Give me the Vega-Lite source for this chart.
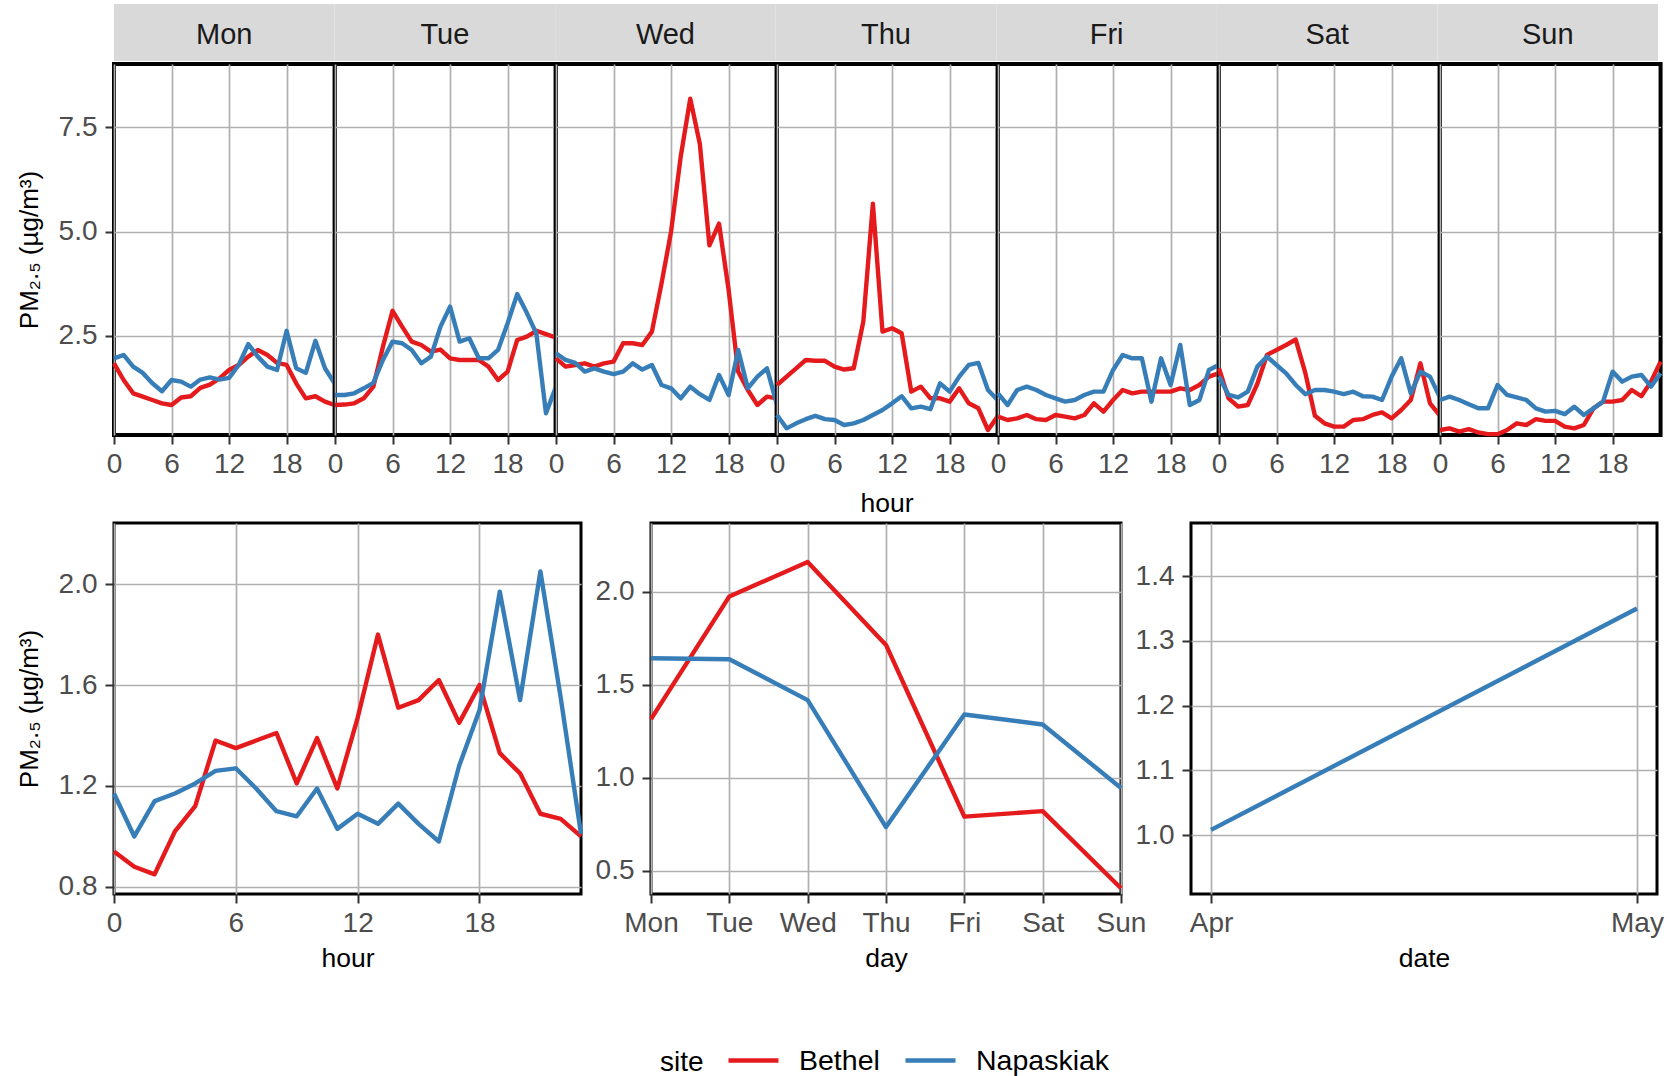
{
  "$schema": "https://vega.github.io/schema/vega-lite/v6.json",
  "padding": {"left": 14, "top": 4, "right": 5, "bottom": 0},
  "background": "white",
  "config": {
    "font": "Liberation Sans",
    "view": {"stroke": "black", "strokeWidth": 3},
    "axis": {"grid": true, "gridColor": "#B0B0B0", "gridWidth": 1.7, "domain": false, "ticks": true, "tickColor": "#333333", "tickWidth": 2, "tickSize": 9, "labelFontSize": 28, "labelColor": "#4D4D4D", "labelPadding": 6, "titleFontSize": 26.5, "titleFontWeight": "normal", "titleColor": "#000000", "labelFlush": false, "labelOverlap": false, "titlePadding": 8},
    "axisY": {"titlePadding": 16, "labelPadding": 8, "titleFontSize": 26},
    "legend": {"direction": "horizontal", "titleOrient": "left", "titleFontSize": 28, "titleFontWeight": "normal", "titleColor": "#000000", "titleAnchor": "middle", "titleBaseline": "line-top", "titleLineHeight": 17, "labelFontSize": 28.5, "labelColor": "#000000", "symbolType": "stroke", "symbolSize": 2500, "symbolStrokeWidth": 4.5, "labelOffset": 18, "columnPadding": 16, "titlePadding": 22}
  },
  "datasets": {
    "days": [{"day":"Mon"},{"day":"Tue"},{"day":"Wed"},{"day":"Thu"},{"day":"Fri"},{"day":"Sat"},{"day":"Sun"}],
    "dayhour": [
      {"day":"Mon","hour":0,"site":"Bethel","pm":1.84},{"day":"Mon","hour":1,"site":"Bethel","pm":1.44},{"day":"Mon","hour":2,"site":"Bethel","pm":1.12},{"day":"Mon","hour":3,"site":"Bethel","pm":1.04},{"day":"Mon","hour":4,"site":"Bethel","pm":0.96},{"day":"Mon","hour":5,"site":"Bethel","pm":0.88},{"day":"Mon","hour":6,"site":"Bethel","pm":0.84},{"day":"Mon","hour":7,"site":"Bethel","pm":1.02},{"day":"Mon","hour":8,"site":"Bethel","pm":1.05},{"day":"Mon","hour":9,"site":"Bethel","pm":1.25},{"day":"Mon","hour":10,"site":"Bethel","pm":1.33},{"day":"Mon","hour":11,"site":"Bethel","pm":1.48},{"day":"Mon","hour":12,"site":"Bethel","pm":1.68},{"day":"Mon","hour":13,"site":"Bethel","pm":1.80},{"day":"Mon","hour":14,"site":"Bethel","pm":2.00},{"day":"Mon","hour":15,"site":"Bethel","pm":2.16},{"day":"Mon","hour":16,"site":"Bethel","pm":2.04},{"day":"Mon","hour":17,"site":"Bethel","pm":1.85},{"day":"Mon","hour":18,"site":"Bethel","pm":1.80},{"day":"Mon","hour":19,"site":"Bethel","pm":1.36},{"day":"Mon","hour":20,"site":"Bethel","pm":1.00},{"day":"Mon","hour":21,"site":"Bethel","pm":1.05},{"day":"Mon","hour":22,"site":"Bethel","pm":0.92},{"day":"Mon","hour":23,"site":"Bethel","pm":0.84},
      {"day":"Mon","hour":0,"site":"Napaskiak","pm":1.96},{"day":"Mon","hour":1,"site":"Napaskiak","pm":2.04},{"day":"Mon","hour":2,"site":"Napaskiak","pm":1.76},{"day":"Mon","hour":3,"site":"Napaskiak","pm":1.61},{"day":"Mon","hour":4,"site":"Napaskiak","pm":1.36},{"day":"Mon","hour":5,"site":"Napaskiak","pm":1.17},{"day":"Mon","hour":6,"site":"Napaskiak","pm":1.44},{"day":"Mon","hour":7,"site":"Napaskiak","pm":1.40},{"day":"Mon","hour":8,"site":"Napaskiak","pm":1.28},{"day":"Mon","hour":9,"site":"Napaskiak","pm":1.45},{"day":"Mon","hour":10,"site":"Napaskiak","pm":1.50},{"day":"Mon","hour":11,"site":"Napaskiak","pm":1.45},{"day":"Mon","hour":12,"site":"Napaskiak","pm":1.49},{"day":"Mon","hour":13,"site":"Napaskiak","pm":1.80},{"day":"Mon","hour":14,"site":"Napaskiak","pm":2.30},{"day":"Mon","hour":15,"site":"Napaskiak","pm":2.00},{"day":"Mon","hour":16,"site":"Napaskiak","pm":1.76},{"day":"Mon","hour":17,"site":"Napaskiak","pm":1.68},{"day":"Mon","hour":18,"site":"Napaskiak","pm":2.62},{"day":"Mon","hour":19,"site":"Napaskiak","pm":1.72},{"day":"Mon","hour":20,"site":"Napaskiak","pm":1.61},{"day":"Mon","hour":21,"site":"Napaskiak","pm":2.38},{"day":"Mon","hour":22,"site":"Napaskiak","pm":1.72},{"day":"Mon","hour":23,"site":"Napaskiak","pm":1.36},
      {"day":"Tue","hour":0,"site":"Bethel","pm":0.84},{"day":"Tue","hour":1,"site":"Bethel","pm":0.85},{"day":"Tue","hour":2,"site":"Bethel","pm":0.88},{"day":"Tue","hour":3,"site":"Bethel","pm":1.00},{"day":"Tue","hour":4,"site":"Bethel","pm":1.28},{"day":"Tue","hour":5,"site":"Bethel","pm":2.24},{"day":"Tue","hour":6,"site":"Bethel","pm":3.10},{"day":"Tue","hour":7,"site":"Bethel","pm":2.72},{"day":"Tue","hour":8,"site":"Bethel","pm":2.36},{"day":"Tue","hour":9,"site":"Bethel","pm":2.28},{"day":"Tue","hour":10,"site":"Bethel","pm":2.12},{"day":"Tue","hour":11,"site":"Bethel","pm":2.17},{"day":"Tue","hour":12,"site":"Bethel","pm":1.96},{"day":"Tue","hour":13,"site":"Bethel","pm":1.92},{"day":"Tue","hour":14,"site":"Bethel","pm":1.92},{"day":"Tue","hour":15,"site":"Bethel","pm":1.92},{"day":"Tue","hour":16,"site":"Bethel","pm":1.76},{"day":"Tue","hour":17,"site":"Bethel","pm":1.44},{"day":"Tue","hour":18,"site":"Bethel","pm":1.64},{"day":"Tue","hour":19,"site":"Bethel","pm":2.40},{"day":"Tue","hour":20,"site":"Bethel","pm":2.48},{"day":"Tue","hour":21,"site":"Bethel","pm":2.62},{"day":"Tue","hour":22,"site":"Bethel","pm":2.54},{"day":"Tue","hour":23,"site":"Bethel","pm":2.46},
      {"day":"Tue","hour":0,"site":"Napaskiak","pm":1.08},{"day":"Tue","hour":1,"site":"Napaskiak","pm":1.08},{"day":"Tue","hour":2,"site":"Napaskiak","pm":1.12},{"day":"Tue","hour":3,"site":"Napaskiak","pm":1.24},{"day":"Tue","hour":4,"site":"Napaskiak","pm":1.37},{"day":"Tue","hour":5,"site":"Napaskiak","pm":1.92},{"day":"Tue","hour":6,"site":"Napaskiak","pm":2.36},{"day":"Tue","hour":7,"site":"Napaskiak","pm":2.32},{"day":"Tue","hour":8,"site":"Napaskiak","pm":2.16},{"day":"Tue","hour":9,"site":"Napaskiak","pm":1.84},{"day":"Tue","hour":10,"site":"Napaskiak","pm":2.00},{"day":"Tue","hour":11,"site":"Napaskiak","pm":2.72},{"day":"Tue","hour":12,"site":"Napaskiak","pm":3.20},{"day":"Tue","hour":13,"site":"Napaskiak","pm":2.36},{"day":"Tue","hour":14,"site":"Napaskiak","pm":2.44},{"day":"Tue","hour":15,"site":"Napaskiak","pm":1.96},{"day":"Tue","hour":16,"site":"Napaskiak","pm":1.96},{"day":"Tue","hour":17,"site":"Napaskiak","pm":2.16},{"day":"Tue","hour":18,"site":"Napaskiak","pm":2.80},{"day":"Tue","hour":19,"site":"Napaskiak","pm":3.50},{"day":"Tue","hour":20,"site":"Napaskiak","pm":3.05},{"day":"Tue","hour":21,"site":"Napaskiak","pm":2.55},{"day":"Tue","hour":22,"site":"Napaskiak","pm":0.64},{"day":"Tue","hour":23,"site":"Napaskiak","pm":1.25},
      {"day":"Wed","hour":0,"site":"Bethel","pm":1.96},{"day":"Wed","hour":1,"site":"Bethel","pm":1.76},{"day":"Wed","hour":2,"site":"Bethel","pm":1.80},{"day":"Wed","hour":3,"site":"Bethel","pm":1.84},{"day":"Wed","hour":4,"site":"Bethel","pm":1.76},{"day":"Wed","hour":5,"site":"Bethel","pm":1.84},{"day":"Wed","hour":6,"site":"Bethel","pm":1.88},{"day":"Wed","hour":7,"site":"Bethel","pm":2.32},{"day":"Wed","hour":8,"site":"Bethel","pm":2.32},{"day":"Wed","hour":9,"site":"Bethel","pm":2.28},{"day":"Wed","hour":10,"site":"Bethel","pm":2.60},{"day":"Wed","hour":11,"site":"Bethel","pm":3.75},{"day":"Wed","hour":12,"site":"Bethel","pm":5.00},{"day":"Wed","hour":13,"site":"Bethel","pm":6.79},{"day":"Wed","hour":14,"site":"Bethel","pm":8.19},{"day":"Wed","hour":15,"site":"Bethel","pm":7.10},{"day":"Wed","hour":16,"site":"Bethel","pm":4.67},{"day":"Wed","hour":17,"site":"Bethel","pm":5.19},{"day":"Wed","hour":18,"site":"Bethel","pm":3.60},{"day":"Wed","hour":19,"site":"Bethel","pm":1.64},{"day":"Wed","hour":20,"site":"Bethel","pm":1.20},{"day":"Wed","hour":21,"site":"Bethel","pm":0.84},{"day":"Wed","hour":22,"site":"Bethel","pm":1.04},{"day":"Wed","hour":23,"site":"Bethel","pm":1.00},
      {"day":"Wed","hour":0,"site":"Napaskiak","pm":2.08},{"day":"Wed","hour":1,"site":"Napaskiak","pm":1.92},{"day":"Wed","hour":2,"site":"Napaskiak","pm":1.85},{"day":"Wed","hour":3,"site":"Napaskiak","pm":1.64},{"day":"Wed","hour":4,"site":"Napaskiak","pm":1.72},{"day":"Wed","hour":5,"site":"Napaskiak","pm":1.64},{"day":"Wed","hour":6,"site":"Napaskiak","pm":1.58},{"day":"Wed","hour":7,"site":"Napaskiak","pm":1.64},{"day":"Wed","hour":8,"site":"Napaskiak","pm":1.84},{"day":"Wed","hour":9,"site":"Napaskiak","pm":1.69},{"day":"Wed","hour":10,"site":"Napaskiak","pm":1.80},{"day":"Wed","hour":11,"site":"Napaskiak","pm":1.32},{"day":"Wed","hour":12,"site":"Napaskiak","pm":1.24},{"day":"Wed","hour":13,"site":"Napaskiak","pm":1.00},{"day":"Wed","hour":14,"site":"Napaskiak","pm":1.28},{"day":"Wed","hour":15,"site":"Napaskiak","pm":1.10},{"day":"Wed","hour":16,"site":"Napaskiak","pm":0.96},{"day":"Wed","hour":17,"site":"Napaskiak","pm":1.56},{"day":"Wed","hour":18,"site":"Napaskiak","pm":1.08},{"day":"Wed","hour":19,"site":"Napaskiak","pm":2.16},{"day":"Wed","hour":20,"site":"Napaskiak","pm":1.24},{"day":"Wed","hour":21,"site":"Napaskiak","pm":1.52},{"day":"Wed","hour":22,"site":"Napaskiak","pm":1.72},{"day":"Wed","hour":23,"site":"Napaskiak","pm":0.88},
      {"day":"Thu","hour":0,"site":"Bethel","pm":1.32},{"day":"Thu","hour":1,"site":"Bethel","pm":1.52},{"day":"Thu","hour":2,"site":"Bethel","pm":1.72},{"day":"Thu","hour":3,"site":"Bethel","pm":1.92},{"day":"Thu","hour":4,"site":"Bethel","pm":1.90},{"day":"Thu","hour":5,"site":"Bethel","pm":1.90},{"day":"Thu","hour":6,"site":"Bethel","pm":1.76},{"day":"Thu","hour":7,"site":"Bethel","pm":1.69},{"day":"Thu","hour":8,"site":"Bethel","pm":1.72},{"day":"Thu","hour":9,"site":"Bethel","pm":2.84},{"day":"Thu","hour":10,"site":"Bethel","pm":5.67},{"day":"Thu","hour":11,"site":"Bethel","pm":2.60},{"day":"Thu","hour":12,"site":"Bethel","pm":2.68},{"day":"Thu","hour":13,"site":"Bethel","pm":2.56},{"day":"Thu","hour":14,"site":"Bethel","pm":1.16},{"day":"Thu","hour":15,"site":"Bethel","pm":1.28},{"day":"Thu","hour":16,"site":"Bethel","pm":1.00},{"day":"Thu","hour":17,"site":"Bethel","pm":1.00},{"day":"Thu","hour":18,"site":"Bethel","pm":0.92},{"day":"Thu","hour":19,"site":"Bethel","pm":1.24},{"day":"Thu","hour":20,"site":"Bethel","pm":0.88},{"day":"Thu","hour":21,"site":"Bethel","pm":0.76},{"day":"Thu","hour":22,"site":"Bethel","pm":0.24},{"day":"Thu","hour":23,"site":"Bethel","pm":0.56},
      {"day":"Thu","hour":0,"site":"Napaskiak","pm":0.60},{"day":"Thu","hour":1,"site":"Napaskiak","pm":0.28},{"day":"Thu","hour":2,"site":"Napaskiak","pm":0.40},{"day":"Thu","hour":3,"site":"Napaskiak","pm":0.50},{"day":"Thu","hour":4,"site":"Napaskiak","pm":0.58},{"day":"Thu","hour":5,"site":"Napaskiak","pm":0.50},{"day":"Thu","hour":6,"site":"Napaskiak","pm":0.48},{"day":"Thu","hour":7,"site":"Napaskiak","pm":0.36},{"day":"Thu","hour":8,"site":"Napaskiak","pm":0.40},{"day":"Thu","hour":9,"site":"Napaskiak","pm":0.48},{"day":"Thu","hour":10,"site":"Napaskiak","pm":0.60},{"day":"Thu","hour":11,"site":"Napaskiak","pm":0.72},{"day":"Thu","hour":12,"site":"Napaskiak","pm":0.88},{"day":"Thu","hour":13,"site":"Napaskiak","pm":1.05},{"day":"Thu","hour":14,"site":"Napaskiak","pm":0.76},{"day":"Thu","hour":15,"site":"Napaskiak","pm":0.80},{"day":"Thu","hour":16,"site":"Napaskiak","pm":0.74},{"day":"Thu","hour":17,"site":"Napaskiak","pm":1.36},{"day":"Thu","hour":18,"site":"Napaskiak","pm":1.16},{"day":"Thu","hour":19,"site":"Napaskiak","pm":1.52},{"day":"Thu","hour":20,"site":"Napaskiak","pm":1.80},{"day":"Thu","hour":21,"site":"Napaskiak","pm":1.85},{"day":"Thu","hour":22,"site":"Napaskiak","pm":1.20},{"day":"Thu","hour":23,"site":"Napaskiak","pm":0.96},
      {"day":"Fri","hour":0,"site":"Bethel","pm":0.56},{"day":"Fri","hour":1,"site":"Bethel","pm":0.48},{"day":"Fri","hour":2,"site":"Bethel","pm":0.52},{"day":"Fri","hour":3,"site":"Bethel","pm":0.60},{"day":"Fri","hour":4,"site":"Bethel","pm":0.50},{"day":"Fri","hour":5,"site":"Bethel","pm":0.48},{"day":"Fri","hour":6,"site":"Bethel","pm":0.60},{"day":"Fri","hour":7,"site":"Bethel","pm":0.56},{"day":"Fri","hour":8,"site":"Bethel","pm":0.52},{"day":"Fri","hour":9,"site":"Bethel","pm":0.60},{"day":"Fri","hour":10,"site":"Bethel","pm":0.88},{"day":"Fri","hour":11,"site":"Bethel","pm":0.68},{"day":"Fri","hour":12,"site":"Bethel","pm":0.96},{"day":"Fri","hour":13,"site":"Bethel","pm":1.20},{"day":"Fri","hour":14,"site":"Bethel","pm":1.12},{"day":"Fri","hour":15,"site":"Bethel","pm":1.16},{"day":"Fri","hour":16,"site":"Bethel","pm":1.16},{"day":"Fri","hour":17,"site":"Bethel","pm":1.16},{"day":"Fri","hour":18,"site":"Bethel","pm":1.16},{"day":"Fri","hour":19,"site":"Bethel","pm":1.24},{"day":"Fri","hour":20,"site":"Bethel","pm":1.20},{"day":"Fri","hour":21,"site":"Bethel","pm":1.32},{"day":"Fri","hour":22,"site":"Bethel","pm":1.52},{"day":"Fri","hour":23,"site":"Bethel","pm":1.60},
      {"day":"Fri","hour":0,"site":"Napaskiak","pm":1.12},{"day":"Fri","hour":1,"site":"Napaskiak","pm":0.84},{"day":"Fri","hour":2,"site":"Napaskiak","pm":1.20},{"day":"Fri","hour":3,"site":"Napaskiak","pm":1.28},{"day":"Fri","hour":4,"site":"Napaskiak","pm":1.20},{"day":"Fri","hour":5,"site":"Napaskiak","pm":1.08},{"day":"Fri","hour":6,"site":"Napaskiak","pm":1.00},{"day":"Fri","hour":7,"site":"Napaskiak","pm":0.92},{"day":"Fri","hour":8,"site":"Napaskiak","pm":0.96},{"day":"Fri","hour":9,"site":"Napaskiak","pm":1.08},{"day":"Fri","hour":10,"site":"Napaskiak","pm":1.16},{"day":"Fri","hour":11,"site":"Napaskiak","pm":1.16},{"day":"Fri","hour":12,"site":"Napaskiak","pm":1.68},{"day":"Fri","hour":13,"site":"Napaskiak","pm":2.04},{"day":"Fri","hour":14,"site":"Napaskiak","pm":1.96},{"day":"Fri","hour":15,"site":"Napaskiak","pm":1.96},{"day":"Fri","hour":16,"site":"Napaskiak","pm":0.92},{"day":"Fri","hour":17,"site":"Napaskiak","pm":1.96},{"day":"Fri","hour":18,"site":"Napaskiak","pm":1.32},{"day":"Fri","hour":19,"site":"Napaskiak","pm":2.28},{"day":"Fri","hour":20,"site":"Napaskiak","pm":0.84},{"day":"Fri","hour":21,"site":"Napaskiak","pm":0.96},{"day":"Fri","hour":22,"site":"Napaskiak","pm":1.68},{"day":"Fri","hour":23,"site":"Napaskiak","pm":1.80},
      {"day":"Sat","hour":0,"site":"Bethel","pm":1.72},{"day":"Sat","hour":1,"site":"Bethel","pm":1.00},{"day":"Sat","hour":2,"site":"Bethel","pm":0.80},{"day":"Sat","hour":3,"site":"Bethel","pm":0.84},{"day":"Sat","hour":4,"site":"Bethel","pm":1.35},{"day":"Sat","hour":5,"site":"Bethel","pm":2.04},{"day":"Sat","hour":6,"site":"Bethel","pm":2.16},{"day":"Sat","hour":7,"site":"Bethel","pm":2.28},{"day":"Sat","hour":8,"site":"Bethel","pm":2.41},{"day":"Sat","hour":9,"site":"Bethel","pm":1.61},{"day":"Sat","hour":10,"site":"Bethel","pm":0.58},{"day":"Sat","hour":11,"site":"Bethel","pm":0.40},{"day":"Sat","hour":12,"site":"Bethel","pm":0.32},{"day":"Sat","hour":13,"site":"Bethel","pm":0.32},{"day":"Sat","hour":14,"site":"Bethel","pm":0.48},{"day":"Sat","hour":15,"site":"Bethel","pm":0.50},{"day":"Sat","hour":16,"site":"Bethel","pm":0.60},{"day":"Sat","hour":17,"site":"Bethel","pm":0.66},{"day":"Sat","hour":18,"site":"Bethel","pm":0.52},{"day":"Sat","hour":19,"site":"Bethel","pm":0.72},{"day":"Sat","hour":20,"site":"Bethel","pm":0.96},{"day":"Sat","hour":21,"site":"Bethel","pm":1.84},{"day":"Sat","hour":22,"site":"Bethel","pm":0.88},{"day":"Sat","hour":23,"site":"Bethel","pm":0.60},
      {"day":"Sat","hour":0,"site":"Napaskiak","pm":1.52},{"day":"Sat","hour":1,"site":"Napaskiak","pm":1.08},{"day":"Sat","hour":2,"site":"Napaskiak","pm":1.02},{"day":"Sat","hour":3,"site":"Napaskiak","pm":1.16},{"day":"Sat","hour":4,"site":"Napaskiak","pm":1.76},{"day":"Sat","hour":5,"site":"Napaskiak","pm":2.00},{"day":"Sat","hour":6,"site":"Napaskiak","pm":1.80},{"day":"Sat","hour":7,"site":"Napaskiak","pm":1.60},{"day":"Sat","hour":8,"site":"Napaskiak","pm":1.32},{"day":"Sat","hour":9,"site":"Napaskiak","pm":1.10},{"day":"Sat","hour":10,"site":"Napaskiak","pm":1.20},{"day":"Sat","hour":11,"site":"Napaskiak","pm":1.20},{"day":"Sat","hour":12,"site":"Napaskiak","pm":1.16},{"day":"Sat","hour":13,"site":"Napaskiak","pm":1.10},{"day":"Sat","hour":14,"site":"Napaskiak","pm":1.16},{"day":"Sat","hour":15,"site":"Napaskiak","pm":1.05},{"day":"Sat","hour":16,"site":"Napaskiak","pm":1.04},{"day":"Sat","hour":17,"site":"Napaskiak","pm":0.96},{"day":"Sat","hour":18,"site":"Napaskiak","pm":1.52},{"day":"Sat","hour":19,"site":"Napaskiak","pm":1.96},{"day":"Sat","hour":20,"site":"Napaskiak","pm":1.12},{"day":"Sat","hour":21,"site":"Napaskiak","pm":1.64},{"day":"Sat","hour":22,"site":"Napaskiak","pm":1.52},{"day":"Sat","hour":23,"site":"Napaskiak","pm":1.04},
      {"day":"Sun","hour":0,"site":"Bethel","pm":0.24},{"day":"Sun","hour":1,"site":"Bethel","pm":0.28},{"day":"Sun","hour":2,"site":"Bethel","pm":0.20},{"day":"Sun","hour":3,"site":"Bethel","pm":0.26},{"day":"Sun","hour":4,"site":"Bethel","pm":0.18},{"day":"Sun","hour":5,"site":"Bethel","pm":0.14},{"day":"Sun","hour":6,"site":"Bethel","pm":0.14},{"day":"Sun","hour":7,"site":"Bethel","pm":0.24},{"day":"Sun","hour":8,"site":"Bethel","pm":0.40},{"day":"Sun","hour":9,"site":"Bethel","pm":0.36},{"day":"Sun","hour":10,"site":"Bethel","pm":0.50},{"day":"Sun","hour":11,"site":"Bethel","pm":0.46},{"day":"Sun","hour":12,"site":"Bethel","pm":0.46},{"day":"Sun","hour":13,"site":"Bethel","pm":0.32},{"day":"Sun","hour":14,"site":"Bethel","pm":0.28},{"day":"Sun","hour":15,"site":"Bethel","pm":0.36},{"day":"Sun","hour":16,"site":"Bethel","pm":0.76},{"day":"Sun","hour":17,"site":"Bethel","pm":0.92},{"day":"Sun","hour":18,"site":"Bethel","pm":0.92},{"day":"Sun","hour":19,"site":"Bethel","pm":0.96},{"day":"Sun","hour":20,"site":"Bethel","pm":1.20},{"day":"Sun","hour":21,"site":"Bethel","pm":1.05},{"day":"Sun","hour":22,"site":"Bethel","pm":1.40},{"day":"Sun","hour":23,"site":"Bethel","pm":1.88},
      {"day":"Sun","hour":0,"site":"Napaskiak","pm":0.96},{"day":"Sun","hour":1,"site":"Napaskiak","pm":1.04},{"day":"Sun","hour":2,"site":"Napaskiak","pm":0.96},{"day":"Sun","hour":3,"site":"Napaskiak","pm":0.86},{"day":"Sun","hour":4,"site":"Napaskiak","pm":0.76},{"day":"Sun","hour":5,"site":"Napaskiak","pm":0.76},{"day":"Sun","hour":6,"site":"Napaskiak","pm":1.32},{"day":"Sun","hour":7,"site":"Napaskiak","pm":1.08},{"day":"Sun","hour":8,"site":"Napaskiak","pm":1.02},{"day":"Sun","hour":9,"site":"Napaskiak","pm":0.96},{"day":"Sun","hour":10,"site":"Napaskiak","pm":0.76},{"day":"Sun","hour":11,"site":"Napaskiak","pm":0.68},{"day":"Sun","hour":12,"site":"Napaskiak","pm":0.70},{"day":"Sun","hour":13,"site":"Napaskiak","pm":0.62},{"day":"Sun","hour":14,"site":"Napaskiak","pm":0.80},{"day":"Sun","hour":15,"site":"Napaskiak","pm":0.60},{"day":"Sun","hour":16,"site":"Napaskiak","pm":0.76},{"day":"Sun","hour":17,"site":"Napaskiak","pm":0.92},{"day":"Sun","hour":18,"site":"Napaskiak","pm":1.64},{"day":"Sun","hour":19,"site":"Napaskiak","pm":1.40},{"day":"Sun","hour":20,"site":"Napaskiak","pm":1.52},{"day":"Sun","hour":21,"site":"Napaskiak","pm":1.56},{"day":"Sun","hour":22,"site":"Napaskiak","pm":1.28},{"day":"Sun","hour":23,"site":"Napaskiak","pm":1.60}
    ],
    "hourly": [
      {"hour":0,"site":"Bethel","pm":0.94},{"hour":1,"site":"Bethel","pm":0.88},{"hour":2,"site":"Bethel","pm":0.85},{"hour":3,"site":"Bethel","pm":1.02},{"hour":4,"site":"Bethel","pm":1.12},{"hour":5,"site":"Bethel","pm":1.38},{"hour":6,"site":"Bethel","pm":1.35},{"hour":7,"site":"Bethel","pm":1.38},{"hour":8,"site":"Bethel","pm":1.41},{"hour":9,"site":"Bethel","pm":1.21},{"hour":10,"site":"Bethel","pm":1.39},{"hour":11,"site":"Bethel","pm":1.19},{"hour":12,"site":"Bethel","pm":1.47},{"hour":13,"site":"Bethel","pm":1.80},{"hour":14,"site":"Bethel","pm":1.51},{"hour":15,"site":"Bethel","pm":1.54},{"hour":16,"site":"Bethel","pm":1.62},{"hour":17,"site":"Bethel","pm":1.45},{"hour":18,"site":"Bethel","pm":1.60},{"hour":19,"site":"Bethel","pm":1.33},{"hour":20,"site":"Bethel","pm":1.25},{"hour":21,"site":"Bethel","pm":1.09},{"hour":22,"site":"Bethel","pm":1.07},{"hour":23,"site":"Bethel","pm":1.00},
      {"hour":0,"site":"Napaskiak","pm":1.17},{"hour":1,"site":"Napaskiak","pm":1.00},{"hour":2,"site":"Napaskiak","pm":1.14},{"hour":3,"site":"Napaskiak","pm":1.17},{"hour":4,"site":"Napaskiak","pm":1.21},{"hour":5,"site":"Napaskiak","pm":1.26},{"hour":6,"site":"Napaskiak","pm":1.27},{"hour":7,"site":"Napaskiak","pm":1.19},{"hour":8,"site":"Napaskiak","pm":1.10},{"hour":9,"site":"Napaskiak","pm":1.08},{"hour":10,"site":"Napaskiak","pm":1.19},{"hour":11,"site":"Napaskiak","pm":1.03},{"hour":12,"site":"Napaskiak","pm":1.09},{"hour":13,"site":"Napaskiak","pm":1.05},{"hour":14,"site":"Napaskiak","pm":1.13},{"hour":15,"site":"Napaskiak","pm":1.05},{"hour":16,"site":"Napaskiak","pm":0.98},{"hour":17,"site":"Napaskiak","pm":1.28},{"hour":18,"site":"Napaskiak","pm":1.50},{"hour":19,"site":"Napaskiak","pm":1.97},{"hour":20,"site":"Napaskiak","pm":1.54},{"hour":21,"site":"Napaskiak","pm":2.05},{"hour":22,"site":"Napaskiak","pm":1.55},{"hour":23,"site":"Napaskiak","pm":1.01}
    ],
    "weekday": [
      {"day":"Mon","site":"Bethel","pm":1.315},{"day":"Tue","site":"Bethel","pm":1.975},{"day":"Wed","site":"Bethel","pm":2.16},{"day":"Thu","site":"Bethel","pm":1.714},{"day":"Fri","site":"Bethel","pm":0.79},{"day":"Sat","site":"Bethel","pm":0.82},{"day":"Sun","site":"Bethel","pm":0.405},
      {"day":"Mon","site":"Napaskiak","pm":1.642},{"day":"Tue","site":"Napaskiak","pm":1.637},{"day":"Wed","site":"Napaskiak","pm":1.417},{"day":"Thu","site":"Napaskiak","pm":0.734},{"day":"Fri","site":"Napaskiak","pm":1.34},{"day":"Sat","site":"Napaskiak","pm":1.286},{"day":"Sun","site":"Napaskiak","pm":0.944}
    ],
    "monthly": [
      {"month":"Apr","site":"Napaskiak","pm":1.008},{"month":"May","site":"Napaskiak","pm":1.35}
    ]
  },
  "resolve": {"scale": {"color": "shared"}, "legend": {"color": "shared"}},
  "spacing": 3,
  "vconcat": [
    {
      "spacing": 1,
      "resolve": {"scale": {"color": "shared"}, "legend": {"color": "shared"}},
      "vconcat": [
        {
          "data": {"name": "days"},
          "width": 1544,
          "height": 57,
          "view": {"stroke": null},
          "layer": [
            {"mark": {"type": "rect", "color": "#D9D9D9"},
             "encoding": {"x": {"field": "day", "type": "nominal", "sort": ["Mon","Tue","Wed","Thu","Fri","Sat","Sun"], "scale": {"paddingInner": 0, "paddingOuter": 0}, "axis": null}}},
            {"mark": {"type": "text", "fontSize": 29, "color": "#1A1A1A", "baseline": "middle", "dy": 2},
             "encoding": {"x": {"field": "day", "type": "nominal", "sort": ["Mon","Tue","Wed","Thu","Fri","Sat","Sun"], "scale": {"paddingInner": 0, "paddingOuter": 0}, "axis": null}, "text": {"field": "day"}}}
          ]
        },
        {
          "data": {"name": "dayhour"},
          "facet": {"column": {"field": "day", "type": "nominal", "sort": ["Mon","Tue","Wed","Thu","Fri","Sat","Sun"], "title": "hour", "header": {"labels": false, "labelPadding": 0, "titleOrient": "bottom", "titleFontSize": 26.5, "titleFontWeight": "normal", "titleColor": "#000000", "titlePadding": 3}}},
          "spacing": 0,
          "bounds": "flush",
          "spec": {
            "width": 220.57,
            "height": 371,
            "view": {"stroke": "black", "strokeWidth": 4},
            "mark": {"type": "line", "strokeWidth": 4.4, "strokeJoin": "round"},
            "encoding": {
              "x": {"field": "hour", "type": "quantitative", "scale": {"domain": [0, 23], "nice": false, "zero": false}, "axis": {"values": [0, 6, 12, 18], "title": null}},
              "y": {"field": "pm", "type": "quantitative", "scale": {"domain": [0.12, 9.02], "nice": false, "zero": false}, "axis": {"values": [2.5, 5, 7.5], "format": ".1f", "title": "PM₂.₅ (µg/m³)"}},
              "color": {"field": "site", "type": "nominal", "title": "site", "scale": {"domain": ["Bethel", "Napaskiak"], "range": ["#E41A1C", "#377EB8"]}, "legend": {"orient": "none", "legendX": 546, "legendY": 1029}}
            }
          }
        }
      ]
    },
    {
      "spacing": 70,
      "bounds": "flush",
      "resolve": {"scale": {"color": "shared"}, "legend": {"color": "shared"}},
      "hconcat": [
        {
          "data": {"name": "hourly"},
          "width": 467,
          "height": 371,
          "mark": {"type": "line", "strokeWidth": 4.4, "strokeJoin": "round"},
          "encoding": {
            "x": {"field": "hour", "type": "quantitative", "scale": {"domain": [0, 23], "nice": false, "zero": false}, "axis": {"values": [0, 6, 12, 18], "title": "hour"}},
            "y": {"field": "pm", "type": "quantitative", "scale": {"domain": [0.772, 2.242], "nice": false, "zero": false}, "axis": {"values": [0.8, 1.2, 1.6, 2.0], "format": ".1f", "title": "PM₂.₅ (µg/m³)"}},
            "color": {"field": "site", "type": "nominal", "title": "site", "scale": {"domain": ["Bethel", "Napaskiak"], "range": ["#E41A1C", "#377EB8"]}, "legend": {"orient": "none", "legendX": 546, "legendY": 1029}}
          }
        },
        {
          "data": {"name": "weekday"},
          "width": 470,
          "height": 371,
          "mark": {"type": "line", "strokeWidth": 4.4, "strokeJoin": "round"},
          "encoding": {
            "x": {"field": "day", "type": "ordinal", "scale": {"type": "point", "padding": 0, "domain": ["Mon","Tue","Wed","Thu","Fri","Sat","Sun"]}, "axis": {"title": "day", "labelAngle": 0}},
            "y": {"field": "pm", "type": "quantitative", "scale": {"domain": [0.374, 2.37], "nice": false, "zero": false}, "axis": {"values": [0.5, 1.0, 1.5, 2.0], "format": ".1f", "title": null}},
            "color": {"field": "site", "type": "nominal", "title": "site", "scale": {"domain": ["Bethel", "Napaskiak"], "range": ["#E41A1C", "#377EB8"]}, "legend": {"orient": "none", "legendX": 546, "legendY": 1029}}
          }
        },
        {
          "data": {"name": "monthly"},
          "width": 466,
          "height": 371,
          "mark": {"type": "line", "strokeWidth": 4.4, "strokeJoin": "round"},
          "encoding": {
            "x": {"field": "month", "type": "ordinal", "scale": {"type": "point", "padding": 0.047, "domain": ["Apr", "May"]}, "axis": {"title": "date", "labelAngle": 0}},
            "y": {"field": "pm", "type": "quantitative", "scale": {"domain": [0.909, 1.482], "nice": false, "zero": false}, "axis": {"values": [1.0, 1.1, 1.2, 1.3, 1.4], "format": ".1f", "title": null}},
            "color": {"field": "site", "type": "nominal", "title": "site", "scale": {"domain": ["Bethel", "Napaskiak"], "range": ["#E41A1C", "#377EB8"]}, "legend": {"orient": "none", "legendX": 546, "legendY": 1029}}
          }
        }
      ]
    }
  ]
}
